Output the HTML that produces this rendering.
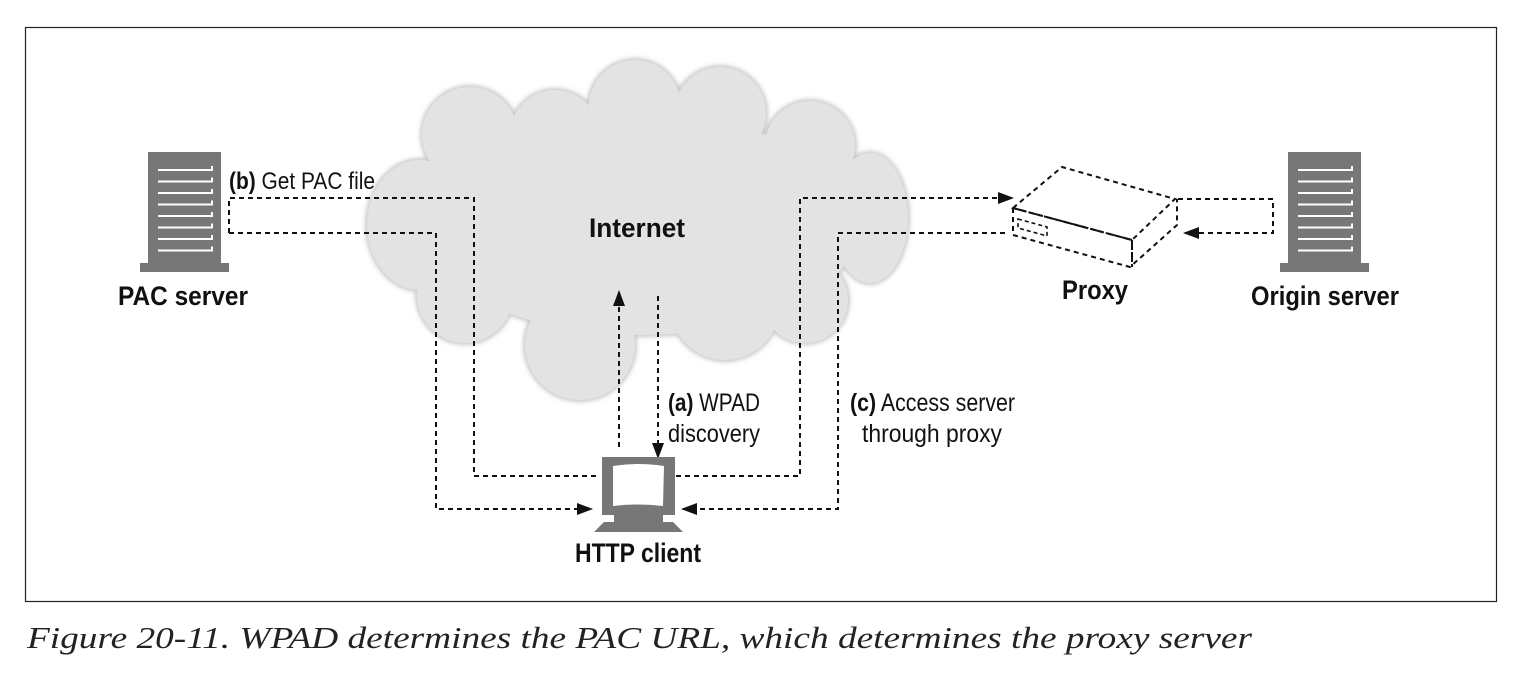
<!DOCTYPE html>
<html><head><meta charset="utf-8"><style>
html,body{margin:0;padding:0;background:#fff;}
svg{display:block;}
.b{font-family:"Liberation Sans",sans-serif;font-weight:bold;fill:#111;}
.r{font-family:"Liberation Sans",sans-serif;fill:#111;}
</style></head><body>
<svg width="1524" height="690" viewBox="0 0 1524 690" xmlns="http://www.w3.org/2000/svg">
<defs>
<marker id="ah" markerWidth="16" markerHeight="12" refX="14" refY="6" orient="auto" markerUnits="userSpaceOnUse" viewBox="0 0 16 12"><path d="M0,0 L16,6 L0,12 z" fill="#111"/></marker>
<g id="srv">
<rect x="0" y="0" width="73" height="111" fill="#777"/>
<rect x="-8" y="111" width="89" height="9" fill="#777"/>
<g stroke="#fff" stroke-width="2" fill="none">
<path d="M10,18 H64 V14"/><path d="M10,29.5 H64 V25.5"/><path d="M10,41 H64 V37"/><path d="M10,52.5 H64 V48.5"/>
<path d="M10,64 H64 V60"/><path d="M10,75.5 H64 V71.5"/><path d="M10,87 H64 V83"/><path d="M10,98.5 H64 V94.5"/>
</g>
</g>
<filter id="blur" x="-20%" y="-20%" width="140%" height="140%"><feGaussianBlur stdDeviation="2"/></filter>
</defs>
<rect x="25.5" y="27.5" width="1471" height="574" fill="none" stroke="#222" stroke-width="1.2"/>

<!-- cloud -->
<g fill="#c9c9c9" filter="url(#blur)">
<ellipse cx="640" cy="225" rx="222" ry="112"/>
<ellipse cx="420" cy="225" rx="55" ry="67"/>
<circle cx="470" cy="135" r="50"/><circle cx="555" cy="135" r="47"/><circle cx="635" cy="106" r="48"/>
<circle cx="720" cy="113" r="48"/><circle cx="810" cy="146" r="47"/>
<ellipse cx="870" cy="218" rx="40" ry="67"/>
<circle cx="805" cy="300" r="45"/><circle cx="725" cy="305" r="57"/><circle cx="580" cy="345" r="57"/><circle cx="465" cy="295" r="50"/>
</g>
<g fill="#e3e3e3">
<ellipse cx="640" cy="225" rx="220" ry="110"/>
<ellipse cx="420" cy="225" rx="53" ry="65"/>
<circle cx="470" cy="135" r="48"/><circle cx="555" cy="135" r="45"/><circle cx="635" cy="106" r="46"/>
<circle cx="720" cy="113" r="46"/><circle cx="810" cy="146" r="45"/>
<ellipse cx="870" cy="218" rx="38" ry="65"/>
<circle cx="805" cy="300" r="43"/><circle cx="725" cy="305" r="55"/><circle cx="580" cy="345" r="55"/><circle cx="465" cy="295" r="48"/>
</g>
<text x="637" y="237" class="b" font-size="27" text-anchor="middle" textLength="96" lengthAdjust="spacingAndGlyphs">Internet</text>

<!-- servers -->
<use href="#srv" x="148" y="152"/>
<use href="#srv" x="1288" y="152"/>
<text x="183" y="305" class="b" font-size="27" text-anchor="middle" textLength="130" lengthAdjust="spacingAndGlyphs">PAC server</text>
<text x="1325" y="305" class="b" font-size="27" text-anchor="middle" textLength="148" lengthAdjust="spacingAndGlyphs">Origin server</text>
<text x="229" y="189" class="r" font-size="24" textLength="146" lengthAdjust="spacingAndGlyphs"><tspan font-weight="bold">(b)</tspan> Get PAC file</text>

<!-- connectors -->
<g fill="none" stroke="#111" stroke-width="2" stroke-dasharray="5,4">
<path d="M229,233 V198 H474 V476 H600"/>
<path d="M229,233 H436 V509 H591" marker-end="url(#ah)"/>
<path d="M676,476 H800 V198 H1012" marker-end="url(#ah)"/>
<path d="M1005,233 H838 V509 H683" marker-end="url(#ah)"/>
<path d="M619,447 V292" marker-end="url(#ah)"/>
<path d="M658,296 V457" marker-end="url(#ah)"/>
<path d="M1178,199 H1273 V233 H1185" marker-end="url(#ah)"/>
</g>

<!-- proxy -->
<g fill="none" stroke="#111" stroke-width="2">
<path d="M1013,208 L1062,167 L1175,199 L1132,240 Z" stroke-dasharray="5,4"/>
<path d="M1013,208 L1132,240" stroke-dasharray="14,2"/>
<path d="M1013,208 V235 L1130,267 L1177,225 V199" stroke-dasharray="5,4"/>
<path d="M1132,240 V267" stroke-dasharray="10,2"/>
<path d="M1018,219 L1047,227 V236 L1018,228 Z" stroke-dasharray="4,3" stroke-width="1.6"/>
</g>
<text x="1095" y="299" class="b" font-size="27" text-anchor="middle" textLength="66" lengthAdjust="spacingAndGlyphs">Proxy</text>

<!-- client -->
<rect x="602" y="457" width="73" height="58" fill="#777"/>
<path d="M613,466 Q638,462 664,466 L663,506 Q638,503 613,506 Z" fill="#fff"/>
<rect x="614" y="515" width="49" height="7" fill="#777"/>
<path d="M604,522 H673 L683,532 H594 Z" fill="#777"/>
<text x="638" y="562" class="b" font-size="27" text-anchor="middle" textLength="126" lengthAdjust="spacingAndGlyphs">HTTP client</text>

<text x="668" y="411" class="r" font-size="25" textLength="92" lengthAdjust="spacingAndGlyphs"><tspan font-weight="bold">(a)</tspan> WPAD</text>
<text x="668" y="442" class="r" font-size="25" textLength="92" lengthAdjust="spacingAndGlyphs">discovery</text>
<text x="850" y="411" class="r" font-size="25" textLength="165" lengthAdjust="spacingAndGlyphs"><tspan font-weight="bold">(c)</tspan> Access server</text>
<text x="862" y="442" class="r" font-size="25" textLength="140" lengthAdjust="spacingAndGlyphs">through proxy</text>

<text x="27" y="648" font-family="'Liberation Serif', serif" font-style="italic" font-size="31" fill="#222" textLength="1225" lengthAdjust="spacingAndGlyphs">Figure 20-11. WPAD determines the PAC URL, which determines the proxy server</text>
</svg>
</body></html>
